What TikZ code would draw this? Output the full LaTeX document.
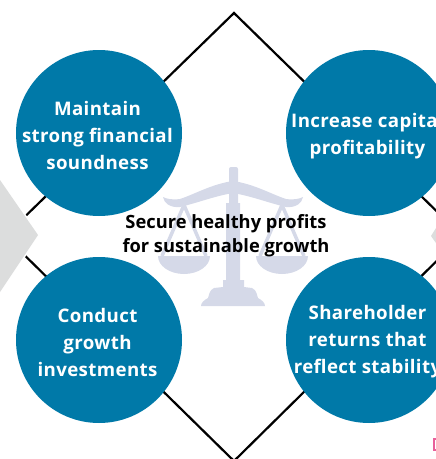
\documentclass[tikz,border=0pt]{standalone}
\usepackage{fontspec}
\setmainfont{Open Sans}
\definecolor{tealblue}{HTML}{0079A8}
\definecolor{chevgray}{HTML}{DCDDDD}
\definecolor{scalegray}{HTML}{D5D9E8}
\definecolor{markpink}{HTML}{E8609A}
\tikzset{goal/.style={circle,fill=tealblue,minimum size=166pt,inner sep=0pt},
 goaltext/.style={text=white,xshift=-1.5pt,yshift=-2pt,inner sep=0pt,
  font=\fontsize{18.7}{27}\selectfont\bfseries\addfontfeatures{LetterSpace=2},align=center},
 diamondline/.style={draw=black,line width=2.2pt,line join=miter},
 scalepart/.style={fill=scalegray,draw=none},
 }
\begin{document}
\begin{tikzpicture}[x=1pt,y=-1pt]
        \useasboundingbox (0,0) rectangle (436,459);
        \clip (0,0) rectangle (436,459);
        \coordinate (top) at (234,13);
        \coordinate (right) at (462,236);
        \coordinate (bottom) at (234,461);
        \coordinate (left) at (5,236);
        \draw[diamondline] (top) -- (right) -- (bottom) -- (left) -- cycle;
        \fill[white] (0,178) -- (40,235) -- (0,294) -- cycle;
        \fill[chevgray] (0,180) -- (38,235) -- (0,292) -- cycle;
        \fill[white] (436,224) -- (427,236) -- (436,247) -- cycle;
        \fill[chevgray] (436,228) -- (431,236) -- (436,243) -- cycle;
        % scales
        \fill[scalepart] (229,169) arc (180:270:2) -- (236,167) arc (270:360:2) -- (238,203) -- (240,203) -- (240,280) -- (244,280) -- (244,287) -- (252,288)
            .. controls (257,290) and (257,296) .. (258,298) .. controls (262,300) and (265,303) .. (265,306)
            -- (201,306) .. controls (201,303) and (204,300) .. (208,298) .. controls (209,296) and (209,290) .. (214,288)
            -- (223,287) -- (223,280) -- (226,280) -- (226,203) -- (229,203) -- cycle;
        \fill[scalepart] (233,181) .. controls (212,184) and (195,194) .. (180,199) .. controls (172,200) and (167,199) .. (163,197)
            .. controls (164,203) and (170,208) .. (180,207) .. controls (197,203) and (215,196) .. (233,193)
            .. controls (251,196) and (269,203) .. (286,207) .. controls (296,208) and (302,203) .. (303,197)
            .. controls (299,199) and (294,200) .. (286,199) .. controls (271,194) and (254,184) .. (233,181) -- cycle;
        \foreach \cx in {184,282} {
            \fill[scalepart] (\cx-26,256) -- (\cx+26,256) arc (0:180:26 and 18) -- cycle;
            \draw[scalegray,line width=3.5pt] (\cx-22,256) -- (\cx,205) -- (\cx+22,256);
        }
        \node[goal,label={[goaltext]center:Maintain\\strong financial\\soundness}] (soundness) at (99,133) {};
        \node[goal,label={[goaltext,yshift=-1.5pt]center:Increase capital\\profitability}] (capital) at (369,133) {};
        \node[goal,label={[goaltext]center:Conduct\\growth\\investments}] (investments) at (99,340) {};
        \node[goal,label={[goaltext]center:Shareholder\\returns that\\reflect stability}] (returns) at (369,340) {};
        \node[font=\fontsize{18.3}{24}\selectfont\bfseries,align=center,text=black,inner sep=0pt] (profits) at (226,236) {Secure healthy profits\\for sustainable growth};
        \draw[draw=markpink,line width=1.6pt] (436,439) -- (434,439) -- (434,450) -- (436,450);
    \end{tikzpicture}
\end{document}
